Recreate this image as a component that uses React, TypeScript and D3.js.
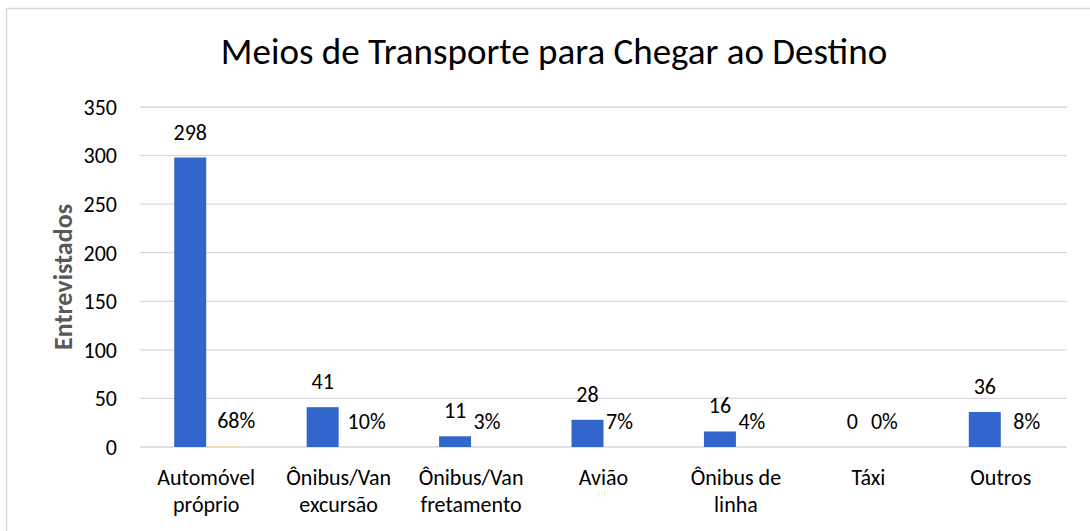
import React from "react";
import * as d3 from "d3";

const categories = [
  ["Automóvel", "próprio"],
  ["Ônibus/Van", "excursão"],
  ["Ônibus/Van", "fretamento"],
  ["Avião"],
  ["Ônibus de", "linha"],
  ["Táxi"],
  ["Outros"],
];
const counts = [298, 41, 11, 28, 16, 0, 36];
const shares = [0.68, 0.1, 0.03, 0.07, 0.04, 0, 0.08];
const yTicks = [0, 50, 100, 150, 200, 250, 300, 350];
// manual nudges of the percent labels, as in the original
const shareLabelDx = [14, 12, 0, 0, 0, 0, 10];

const W = 1090;
const H = 531;
const FONT = "Carlito, Calibri, Lato, sans-serif";

const App = () => {
  const keys = categories.map((c) => c.join(" "));
  const x = d3.scaleBand().domain(keys).range([140, 1067]).paddingInner(0.517).paddingOuter(0.2585);
  const x1 = d3.scaleBand().domain(["n", "p"]).range([0, x.bandwidth()]);
  const y = d3.scaleLinear().domain([0, 350]).range([447, 107]);
  const [x0, x1End] = x.range();

  return (
    <svg width={W} height={H} style={{ position: "absolute", left: 0, top: 0 }} fontFamily={FONT}>
      <rect x={0} y={0} width={W} height={H} fill="#fff" />
      <rect x={6.5} y={8.5} width={W + 10} height={H + 10} fill="none" stroke="#d9d9d9" strokeWidth={1.5} />
      <text x={554} y={64} textAnchor="middle" fontSize={37} fill="#000">
        Meios de Transporte para Chegar ao Destino
      </text>

      {yTicks.map((t) => (
        <g key={t}>
          <line x1={x0} x2={x1End} y1={y(t)} y2={y(t)} stroke="#d9d9d9" strokeWidth={1.3} />
          <text x={117} y={y(t)} dy="0.36em" textAnchor="end" fontSize={22} fill="#000">
            {t}
          </text>
        </g>
      ))}

      <text
        transform={`translate(72,${y(175)}) rotate(-90)`}
        textAnchor="middle"
        fontSize={26}
        fontWeight="bold"
        fill="#595959"
      >
        Entrevistados
      </text>

      {keys.map((k, i) => {
        const bx = x(k)!;
        const nx = bx + x1("n")!;
        const px = bx + x1("p")!;
        const bw = x1.bandwidth();
        return (
          <g key={k}>
            <rect x={nx} y={y(counts[i])} width={bw} height={y(0) - y(counts[i])} fill="#3366cc" />
            <rect x={px} y={y(shares[i])} width={bw} height={y(0) - y(shares[i])} fill="#f2dc9b" />
            <text x={nx + bw / 2} y={y(counts[i]) - 18} textAnchor="middle" fontSize={22} fill="#000">
              {counts[i]}
            </text>
            <text
              x={px + bw / 2 + shareLabelDx[i]}
              y={y(shares[i]) - 18}
              textAnchor="middle"
              fontSize={22}
              fill="#000"
            >
              {d3.format(".0%")(shares[i])}
            </text>
            {categories[i].map((line, j) => (
              <text key={j} x={bx + x.bandwidth() / 2} y={485 + j * 27} textAnchor="middle" fontSize={22} fill="#000">
                {line}
              </text>
            ))}
          </g>
        );
      })}
    </svg>
  );
};

export default App;
